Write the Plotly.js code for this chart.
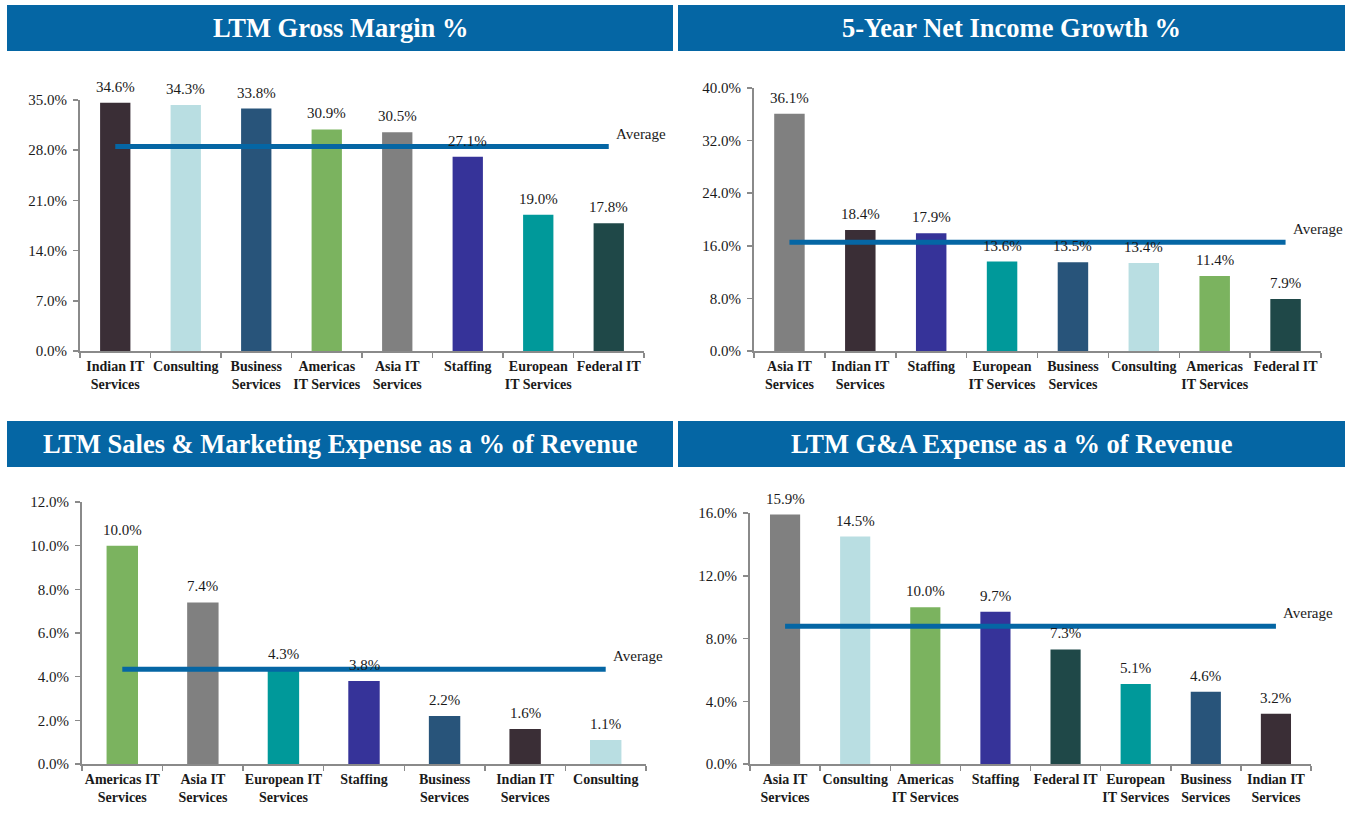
<!DOCTYPE html>
<html>
<head>
<meta charset="utf-8">
<script src="https://cdn.plot.ly/plotly-3.0.1.min.js"></script>
<style>html,body{margin:0;padding:0;background:#fff;}#chart{width:1352px;height:831px;}</style>
</head>
<body>
<div id="chart"></div>
<script>
// ---------- DATA ----------
const titles = ['LTM Gross Margin %', '5-Year Net Income Growth %', 'LTM Sales &amp; Marketing Expense as a % of Revenue', 'LTM G&amp;A Expense as a % of Revenue'];

const cats1 = ['Indian IT Services','Consulting','Business Services','Americas IT Services','Asia IT Services','Staffing','European IT Services','Federal IT'];
const labels1 = ['Indian IT<br>Services','Consulting','Business<br>Services','Americas<br>IT Services','Asia IT<br>Services','Staffing','European<br>IT Services','Federal IT'];
const vals1 = [34.6, 34.3, 33.8, 30.9, 30.5, 27.1, 19.0, 17.8];

const cats2 = ['Asia IT Services','Indian IT Services','Staffing','European IT Services','Business Services','Consulting','Americas IT Services','Federal IT'];
const labels2 = ['Asia IT<br>Services','Indian IT<br>Services','Staffing','European<br>IT Services','Business<br>Services','Consulting','Americas<br>IT Services','Federal IT'];
const vals2 = [36.1, 18.4, 17.9, 13.6, 13.5, 13.4, 11.4, 7.9];

const cats3 = ['Americas IT Services','Asia IT Services','European IT Services','Staffing','Business Services','Indian IT Services','Consulting'];
const labels3 = ['Americas IT<br>Services','Asia IT<br>Services','European IT<br>Services','Staffing','Business<br>Services','Indian IT<br>Services','Consulting'];
const vals3 = [10.0, 7.4, 4.3, 3.8, 2.2, 1.6, 1.1];

const cats4 = ['Asia IT Services','Consulting','Americas IT Services','Staffing','Federal IT','European IT Services','Business Services','Indian IT Services'];
const labels4 = ['Asia IT<br>Services','Consulting','Americas<br>IT Services','Staffing','Federal IT','European<br>IT Services','Business<br>Services','Indian IT<br>Services'];
const vals4 = [15.9, 14.5, 10.0, 9.7, 7.3, 5.1, 4.6, 3.2];

const yMax = [35, 40, 12, 16];
const yStep = [7, 8, 2, 4];

// ---------- STYLE ----------
const colorMap = {
  'Indian IT Services': '#3A2E36',
  'Consulting': '#B9DEE2',
  'Business Services': '#28547A',
  'Americas IT Services': '#7BB35F',
  'Asia IT Services': '#808080',
  'Staffing': '#363399',
  'European IT Services': '#00999A',
  'Federal IT': '#1F4848'
};
const BLUE = '#0566A4';
const SERIF = '"Liberation Serif", "Times New Roman", Times, serif';
const W = 1352, H = 831;
const px = v => v / W;
const py = v => 1 - v / H;

// panel geometry (pixels)
const panels = [
  {x0: 80, x1: 644, top: 100, bot: 351, banner: [7, 673, 5, 51]},
  {x0: 754, x1: 1321, top: 88, bot: 351, banner: [678, 1345, 5, 51]},
  {x0: 82, x1: 646, top: 502, bot: 764, banner: [7, 673, 421, 467]},
  {x0: 750, x1: 1311, top: 513, bot: 764, banner: [678, 1345, 421, 467]}
];

const series = [
  {cats: cats1, labels: labels1, vals: vals1},
  {cats: cats2, labels: labels2, vals: vals2},
  {cats: cats3, labels: labels3, vals: vals3},
  {cats: cats4, labels: labels4, vals: vals4}
];

const traces = [];
const annotations = [];
const shapes = [];
const layout = {
  width: W, height: H,
  margin: {l: 0, r: 0, t: 0, b: 0},
  paper_bgcolor: '#fff', plot_bgcolor: 'rgba(0,0,0,0)',
  showlegend: false, bargap: 0.57,
  font: {family: SERIF, size: 14, color: '#1a1a1a'}
};

series.forEach((s, i) => {
  const n = i + 1;
  const xa = n === 1 ? 'x' : 'x' + n;
  const ya = n === 1 ? 'y' : 'y' + n;
  const p = panels[i];
  const avg = s.vals.reduce((a, b) => a + b, 0) / s.vals.length;
  const barW = i === 2 ? 0.39 : 0.43;

  traces.push({
    type: 'bar', x: s.labels, y: s.vals, xaxis: xa, yaxis: ya, width: barW,
    marker: {color: s.cats.map(c => colorMap[c]), line: {width: 0}},
    hoverinfo: 'none', cliponaxis: false
  });
  traces.push({
    type: 'scatter', mode: 'lines', x: s.labels, y: s.labels.map(() => avg),
    xaxis: xa, yaxis: ya, line: {color: BLUE, width: 5}, hoverinfo: 'none', cliponaxis: false
  });

  s.vals.forEach((v, k) => {
    annotations.push({
      xref: xa, yref: ya, x: s.labels[k], y: v, text: v.toFixed(1) + '%',
      showarrow: false, yanchor: 'middle', yshift: 16,
      font: {family: SERIF, size: 15, color: '#1a1a1a'}
    });
  });
  annotations.push({
    xref: xa, yref: ya, x: s.labels[s.labels.length - 1], y: avg, text: 'Average',
    showarrow: false, xanchor: 'left', yanchor: 'middle', xshift: 5, yshift: 13,
    font: {family: SERIF, size: 15, color: '#1a1a1a'}
  });

  layout['xaxis' + (n === 1 ? '' : n)] = {
    domain: [px(p.x0), px(p.x1)], anchor: ya,
    type: 'category', range: [-0.5, s.labels.length - 0.5], autorange: false,
    showline: true, linecolor: '#8a8a8a', linewidth: 2,
    ticks: 'outside', tickson: 'boundaries', ticklen: 5, tickcolor: '#8a8a8a', tickwidth: 1.5,
    tickangle: 0, automargin: false, ticklabelstandoff: 1,
    showgrid: false, zeroline: false, fixedrange: true,
    tickfont: {family: SERIF, size: 14, color: '#1a1a1a', weight: 'bold'}
  };
  layout['yaxis' + (n === 1 ? '' : n)] = {
    domain: [py(p.bot), py(p.top)], anchor: xa,
    range: [0, yMax[i]], autorange: false, dtick: yStep[i], tick0: 0,
    ticksuffix: '%', tickformat: '.1f',
    showline: true, linecolor: '#8a8a8a', linewidth: 2,
    ticks: 'outside', ticklen: 5, tickcolor: '#8a8a8a', tickwidth: 1.5,
    ticklabelstandoff: 3,
    showgrid: false, zeroline: false, fixedrange: true, automargin: false,
    tickfont: {family: SERIF, size: 15, color: '#1a1a1a'}
  };

  const b = p.banner;
  shapes.push({
    type: 'rect', xref: 'paper', yref: 'paper',
    x0: px(b[0]), x1: px(b[1]), y0: py(b[3]), y1: py(b[2]),
    fillcolor: BLUE, line: {width: 0}, layer: 'below'
  });
  annotations.push({
    xref: 'paper', yref: 'paper', x: px((b[0] + b[1]) / 2), y: py((b[2] + b[3]) / 2),
    text: '<b>' + titles[i] + '</b>', showarrow: false, xanchor: 'center', yanchor: 'middle',
    font: {family: SERIF, size: 26.5, color: '#ffffff'}
  });
});

layout.shapes = shapes;
layout.annotations = annotations;

Plotly.newPlot('chart', traces, layout, {displayModeBar: false, staticPlot: true});
</script>
</body>
</html>
